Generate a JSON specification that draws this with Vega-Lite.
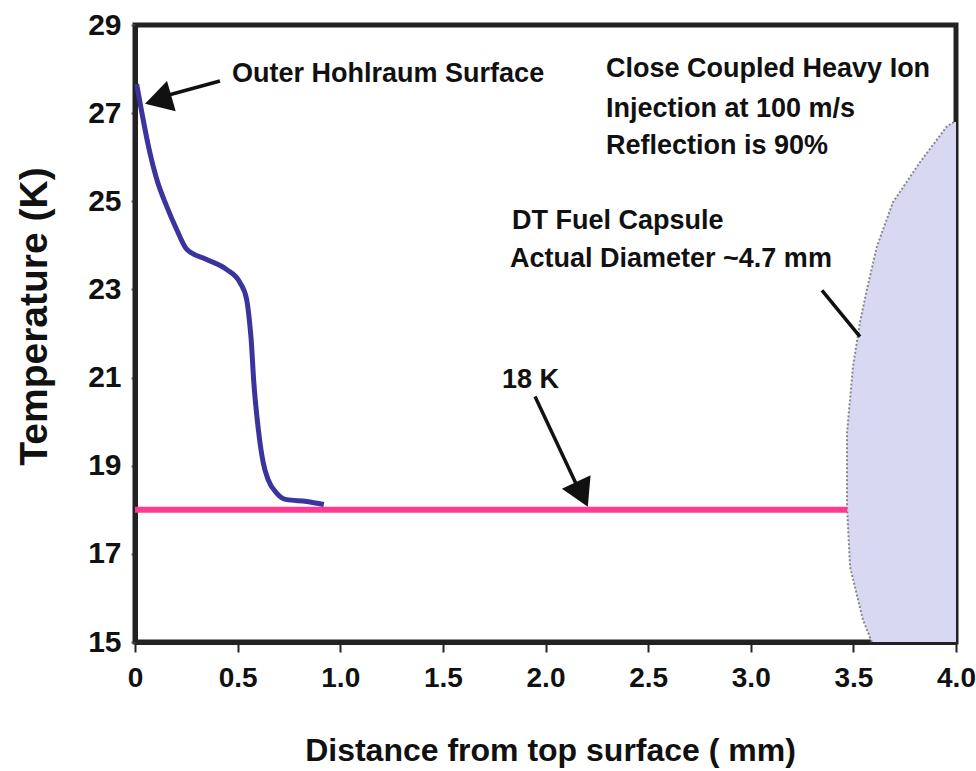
{
  "$schema": "https://vega.github.io/schema/vega-lite/v6.json",
  "width": 821,
  "height": 617,
  "autosize": {"type": "none"},
  "padding": {"left": 135, "top": 25, "right": 20, "bottom": 129},
  "background": "white",
  "config": {
    "view": {"stroke": "#222222", "strokeWidth": 5},
    "font": "Liberation Sans",
    "axisY": {
      "grid": false,
      "domainColor": "#222222", "domainWidth": 5,
      "tickColor": "#555555", "tickSize": 4, "tickWidth": 2,
      "labelFontSize": 30, "labelFontWeight": "bold", "labelColor": "#111111", "labelPadding": 10,
      "titleFontSize": 39, "titleFontWeight": "bold", "titleColor": "#111111",
      "titleX": -101, "titleY": 291, "titleAngle": -90, "titleAlign": "center", "titleBaseline": "middle"
    },
    "axisX": {
      "labelExpr": "datum.value == 0 ? '0' : format(datum.value, '.1f')",
      "grid": false,
      "domainColor": "#222222", "domainWidth": 5,
      "tickColor": "#222222", "tickSize": 10, "tickWidth": 2,
      "labelFontSize": 28, "labelFontWeight": "bold", "labelColor": "#111111", "labelPadding": 12,
      "labelFlush": false,
      "titleFontSize": 32, "titleFontWeight": "bold", "titleColor": "#111111",
      "titleX": 415, "titleY": 108, "titleAlign": "center", "titleBaseline": "middle"
    }
  },
  "datasets": {
    "capsule": [
      {"y": 26.80, "x": 3.99, "x2": 4.0},
      {"y": 26.70, "x": 3.956, "x2": 4.0},
      {"y": 25.89, "x": 3.825, "x2": 4.0},
      {"y": 24.98, "x": 3.693, "x2": 4.0},
      {"y": 23.98, "x": 3.615, "x2": 4.0},
      {"y": 23.00, "x": 3.566, "x2": 4.0},
      {"y": 22.25, "x": 3.532, "x2": 4.0},
      {"y": 21.25, "x": 3.498, "x2": 4.0},
      {"y": 19.75, "x": 3.469, "x2": 4.0},
      {"y": 18.07, "x": 3.469, "x2": 4.0},
      {"y": 16.70, "x": 3.484, "x2": 4.0},
      {"y": 15.50, "x": 3.547, "x2": 4.0},
      {"y": 15.00, "x": 3.59, "x2": 4.0}
    ],
    "curve": [
      {"x": 0.008, "y": 27.66},
      {"x": 0.033, "y": 27.02},
      {"x": 0.065, "y": 26.26},
      {"x": 0.106, "y": 25.50},
      {"x": 0.154, "y": 24.89},
      {"x": 0.203, "y": 24.36},
      {"x": 0.252, "y": 23.91},
      {"x": 0.349, "y": 23.68},
      {"x": 0.447, "y": 23.45},
      {"x": 0.512, "y": 23.15},
      {"x": 0.544, "y": 22.77},
      {"x": 0.560, "y": 22.17},
      {"x": 0.566, "y": 21.86},
      {"x": 0.578, "y": 20.95},
      {"x": 0.601, "y": 19.82},
      {"x": 0.625, "y": 19.06},
      {"x": 0.649, "y": 18.68},
      {"x": 0.690, "y": 18.38},
      {"x": 0.739, "y": 18.23},
      {"x": 0.837, "y": 18.19},
      {"x": 0.92, "y": 18.12}
    ],
    "level": [{"x": 0, "x2": 3.47, "y": 18}],
    "arrows": [
      {"x": 0.414, "y": 27.73, "x2": 0.146, "y2": 27.39},
      {"x": 1.949, "y": 20.57, "x2": 2.158, "y2": 18.50},
      {"x": 3.347, "y": 22.98, "x2": 3.532, "y2": 21.93}
    ],
    "head1": [{"x": 0.113, "y": 27.30}],
    "head2": [{"x": 2.178, "y": 18.35}],
    "labels": [
      {"x": 0.473, "y": 27.89, "label": "Outer Hohlraum Surface"},
      {"x": 2.295, "y": 28.00, "label": "Close Coupled Heavy Ion"},
      {"x": 2.295, "y": 27.09, "label": "Injection at 100 m/s"},
      {"x": 2.295, "y": 26.25, "label": "Reflection is 90%"},
      {"x": 1.837, "y": 24.55, "label": "DT Fuel Capsule"},
      {"x": 1.827, "y": 23.68, "label": "Actual Diameter ~4.7 mm"},
      {"x": 1.788, "y": 20.95, "label": "18 K"}
    ]
  },
  "layer": [
    {
      "data": {"name": "capsule"},
      "mark": {"type": "area", "orient": "horizontal", "color": "#d8d8f2", "opacity": 1},
      "encoding": {
        "y": {"field": "y", "type": "quantitative", "scale": {"domain": [15, 29], "nice": false, "zero": false}, "title": "Temperature (K)", "axis": {"values": [15, 17, 19, 21, 23, 25, 27, 29]}},
        "x": {"field": "x", "type": "quantitative", "scale": {"domain": [0, 4], "nice": false}, "title": "Distance from top surface ( mm)", "axis": {"values": [0, 0.5, 1, 1.5, 2, 2.5, 3, 3.5, 4]}},
        "x2": {"field": "x2"}
      }
    },
    {
      "data": {"name": "capsule"},
      "mark": {"type": "line", "color": "#888888", "strokeWidth": 2, "strokeDash": [2, 2]},
      "encoding": {
        "y": {"field": "y", "type": "quantitative", "scale": {"domain": [15, 29]}, "title": "Temperature (K)", "axis": {"values": [15, 17, 19, 21, 23, 25, 27, 29]}},
        "x": {"field": "x", "type": "quantitative", "scale": {"domain": [0, 4]}, "title": "Distance from top surface ( mm)", "axis": {"values": [0, 0.5, 1, 1.5, 2, 2.5, 3, 3.5, 4]}},
        "order": {"field": "y", "type": "quantitative"}
      }
    },
    {
      "data": {"name": "level"},
      "mark": {"type": "rule", "color": "#ff3a93", "strokeWidth": 6},
      "encoding": {
        "y": {"field": "y", "type": "quantitative", "scale": {"domain": [15, 29]}, "title": "Temperature (K)", "axis": {"values": [15, 17, 19, 21, 23, 25, 27, 29]}},
        "x": {"field": "x", "type": "quantitative", "scale": {"domain": [0, 4]}, "title": "Distance from top surface ( mm)", "axis": {"values": [0, 0.5, 1, 1.5, 2, 2.5, 3, 3.5, 4]}},
        "x2": {"field": "x2"}
      }
    },
    {
      "data": {"name": "curve"},
      "mark": {"type": "line", "color": "#3b349e", "strokeWidth": 5, "interpolate": "monotone"},
      "encoding": {
        "y": {"field": "y", "type": "quantitative", "scale": {"domain": [15, 29]}, "title": "Temperature (K)", "axis": {"values": [15, 17, 19, 21, 23, 25, 27, 29]}},
        "x": {"field": "x", "type": "quantitative", "scale": {"domain": [0, 4]}, "title": "Distance from top surface ( mm)", "axis": {"values": [0, 0.5, 1, 1.5, 2, 2.5, 3, 3.5, 4]}}
      }
    },
    {
      "data": {"name": "arrows"},
      "mark": {"type": "rule", "color": "#111111", "strokeWidth": 3.5},
      "encoding": {
        "y": {"field": "y", "type": "quantitative", "scale": {"domain": [15, 29]}, "title": "Temperature (K)", "axis": {"values": [15, 17, 19, 21, 23, 25, 27, 29]}},
        "x": {"field": "x", "type": "quantitative", "scale": {"domain": [0, 4]}, "title": "Distance from top surface ( mm)", "axis": {"values": [0, 0.5, 1, 1.5, 2, 2.5, 3, 3.5, 4]}},
        "x2": {"field": "x2"},
        "y2": {"field": "y2"}
      }
    },
    {
      "data": {"name": "head1"},
      "mark": {"type": "point", "shape": "triangle-left", "filled": true, "size": 1000, "angle": 344, "color": "#111111", "opacity": 1},
      "encoding": {
        "y": {"field": "y", "type": "quantitative", "scale": {"domain": [15, 29]}, "title": "Temperature (K)", "axis": {"values": [15, 17, 19, 21, 23, 25, 27, 29]}},
        "x": {"field": "x", "type": "quantitative", "scale": {"domain": [0, 4]}, "title": "Distance from top surface ( mm)", "axis": {"values": [0, 0.5, 1, 1.5, 2, 2.5, 3, 3.5, 4]}}
      }
    },
    {
      "data": {"name": "head2"},
      "mark": {"type": "point", "shape": "triangle-right", "filled": true, "size": 1000, "angle": 65, "color": "#111111", "opacity": 1},
      "encoding": {
        "y": {"field": "y", "type": "quantitative", "scale": {"domain": [15, 29]}, "title": "Temperature (K)", "axis": {"values": [15, 17, 19, 21, 23, 25, 27, 29]}},
        "x": {"field": "x", "type": "quantitative", "scale": {"domain": [0, 4]}, "title": "Distance from top surface ( mm)", "axis": {"values": [0, 0.5, 1, 1.5, 2, 2.5, 3, 3.5, 4]}}
      }
    },
    {
      "data": {"name": "labels"},
      "mark": {"type": "text", "align": "left", "baseline": "middle", "fontSize": 27, "fontWeight": "bold", "color": "#111111"},
      "encoding": {
        "y": {"field": "y", "type": "quantitative", "scale": {"domain": [15, 29]}, "title": "Temperature (K)", "axis": {"values": [15, 17, 19, 21, 23, 25, 27, 29]}},
        "x": {"field": "x", "type": "quantitative", "scale": {"domain": [0, 4]}, "title": "Distance from top surface ( mm)", "axis": {"values": [0, 0.5, 1, 1.5, 2, 2.5, 3, 3.5, 4]}},
        "text": {"field": "label"}
      }
    }
  ]
}
